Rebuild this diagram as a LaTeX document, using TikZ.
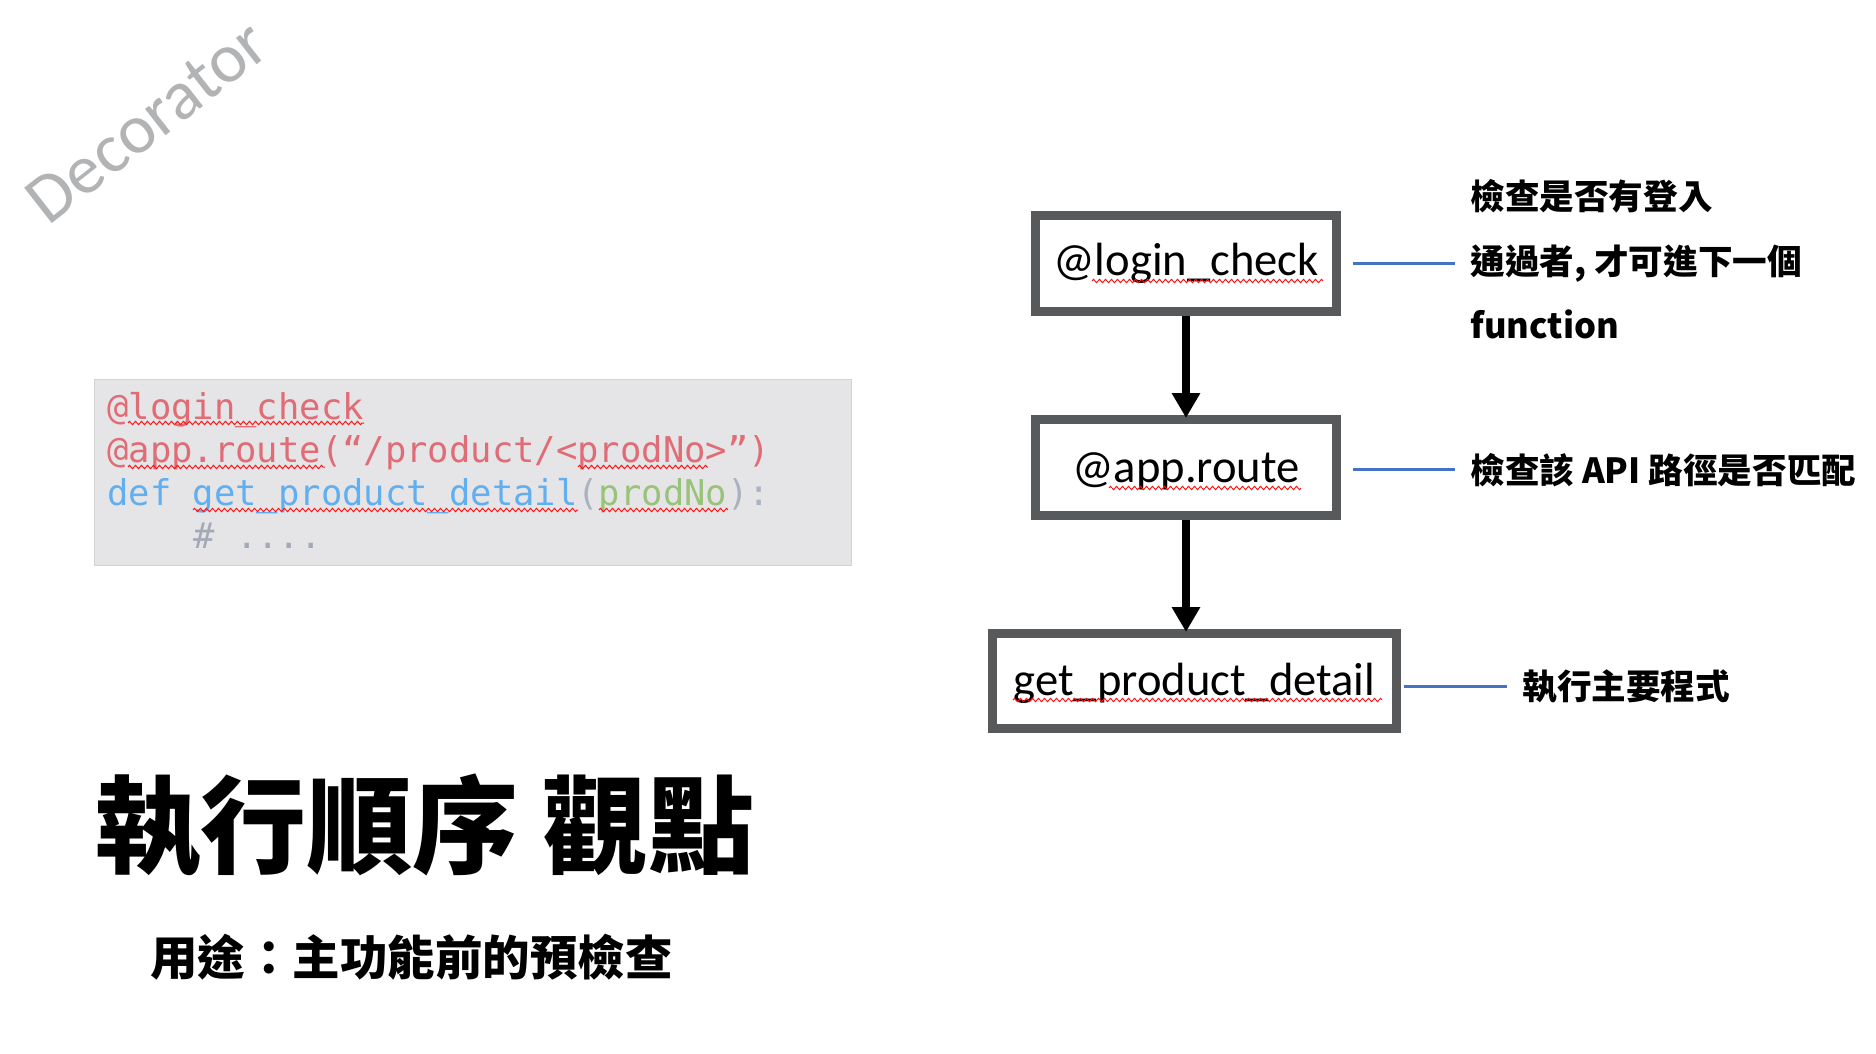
\documentclass[tikz,border=0pt]{standalone}
\usepackage{fontspec}
\usetikzlibrary{arrows.meta,decorations.pathmorphing,calc}
\newfontfamily\cjkfont{Noto Sans CJK TC}
\newfontfamily\calfont{Carlito}
\newfontfamily\codefont{DejaVu Sans Mono}
\definecolor{decogray}{HTML}{B2B3B5}
\definecolor{codebg}{HTML}{E5E5E8}
\definecolor{codeedge}{HTML}{D3D3D5}
\definecolor{cred}{HTML}{E06C75}
\definecolor{cblue}{HTML}{61AFEF}
\definecolor{cgreen}{HTML}{98C379}
\definecolor{cgray}{HTML}{ABB2BF}
\definecolor{ccomment}{HTML}{A3AAB6}
\definecolor{boxgray}{HTML}{58595B}
\definecolor{linkblue}{HTML}{4472C4}
\definecolor{squigred}{HTML}{F01818}
\begin{document}
\begin{tikzpicture}[x=0.5pt,y=-0.5pt,
  deco/.style={font=\calfont\fontsize{35pt}{40pt}\selectfont, text=decogray, inner sep=0pt},
  codebox/.style={draw=codeedge, line width=0.5pt, fill=codebg, inner sep=0pt},
  codeline/.style={font=\codefont\fontsize{17.75pt}{21pt}\selectfont, inner sep=0pt, anchor=base west},
  flowbox/.style={draw=boxgray, line width=4.5pt, fill=white, inner sep=0pt,
    font=\calfont\fontsize{23.3pt}{28pt}\selectfont, text height=17pt},
  flow/.style={line width=4.15pt, -{Triangle[length=12.5pt,width=13.5pt]}, shorten >=-1.5pt},
  link/.style={draw=linkblue, line width=1.4pt},
  note/.style={font=\cjkfont\bfseries\fontsize{17.3pt}{21pt}\selectfont, inner sep=0pt, anchor=base west},
  squig/.style={draw=squigred, line width=0.5pt, decorate,
    decoration={zigzag, amplitude=0.8pt, segment length=3pt}},
  ]
\useasboundingbox (0,0) rectangle (1876,1054);
\fill[white] (0,0) rectangle (1876,1054);

% watermark
\node[deco, rotate=38] (deco) at (147,122) {Decorator};

% code block
\node[codebox, minimum width=378.5pt, minimum height=93pt] (code) at (472.5,472) {};
\node[codeline] (c1) at (107,419) {\textcolor{cred}{@login\_check}};
\node[codeline] (c2) at (107,462) {\textcolor{cred}{@app.route(“/product/<prodNo>”)}};
\node[codeline] (c3) at (107,505) {\textcolor{cblue}{def get\_product\_detail}\textcolor{cgray}{(}\textcolor{cgreen}{prodNo}\textcolor{cgray}{):}};
\node[codeline] (c4) at (193,548) {\textcolor{ccomment}{\# ....}};
\draw[squig] (128,423) -- (364,423);
\draw[squig] (128,467) -- (325,467);
\draw[squig] (578,467) -- (708,467);
\draw[squig] (193,510) -- (578,510);
\draw[squig] (599,510) -- (728,510);

% flow boxes
\node[flowbox, minimum width=150.5pt, minimum height=48pt, text depth=5.5pt] (b1) at (1186,263.5) {@login\_check};
\node[flowbox, minimum width=150.5pt, minimum height=48pt, text depth=2.5pt] (b2) at (1186,467.5) {@app.route};
\node[flowbox, minimum width=202pt, minimum height=47.5pt, text depth=3pt] (b3) at (1194.5,681) {get\_product\_detail};
\draw[squig] (1092,281) -- (1323,281);
\draw[squig] (1109,488) -- (1301,488);
\draw[squig] (1013,700) -- (1382,700);

\draw[flow] (b1.south) -- (b2.north);
\draw[flow] (b2.south) -- (b2.south |- b3.north);

% notes
\node[note] (n1) at (1470,210) {檢查是否有登入};
\node[note] (n2) at (1470,274) {通過者, 才可進下一個};
\node[note] (n3) at (1470,338) {function};
\node[note] (n4) at (1470,483) {檢查該 API 路徑是否匹配};
\node[note] (n5) at (1522,699) {執行主要程式};

\draw[link] ($(b1.east |- n2.west)+(12,0)$) -- ($(n2.west)+(-15,0)$);
\draw[link] ($(b2.east |- n4.west)+(12,0)$) -- ($(n4.west)+(-15,0)$);
\draw[link] ($(b3.east |- n5.west)+(3,0)$) -- ($(n5.west)+(-15,0)$);

% titles
\node[inner sep=0pt, anchor=base west, font=\cjkfont\bfseries\fontsize{53pt}{60pt}\selectfont] (title) at (94,865) {執行順序 觀點};
\node[inner sep=0pt, anchor=base west, font=\cjkfont\bfseries\fontsize{23.75pt}{28pt}\selectfont] (sub) at (150,975) {用途：主功能前的預檢查};
\end{tikzpicture}
\end{document}
